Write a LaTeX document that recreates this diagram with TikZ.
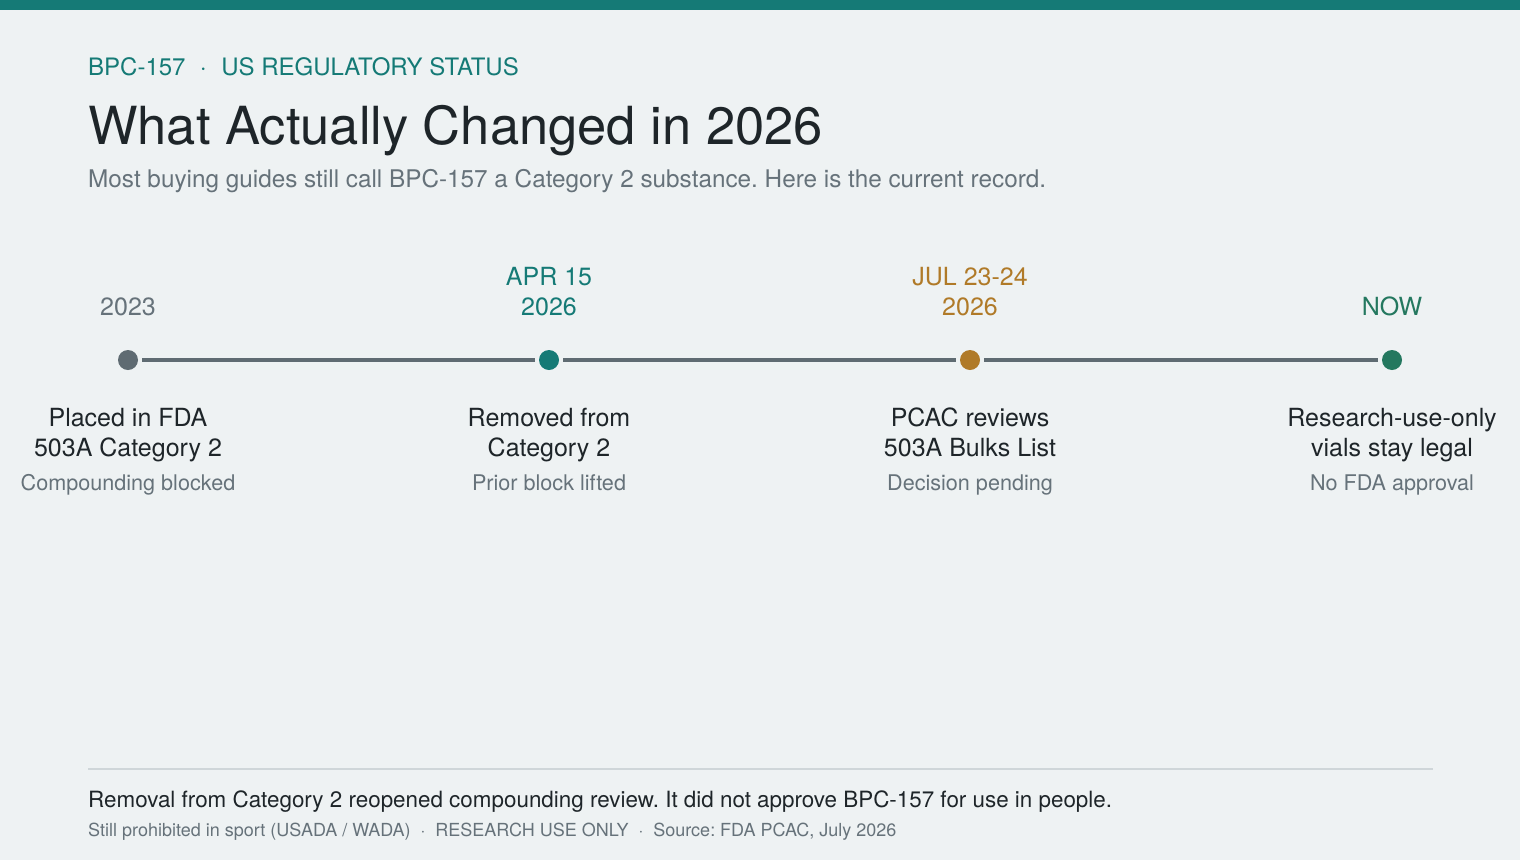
\documentclass[tikz,border=0pt]{standalone}
\usepackage{fontspec}
\setmainfont{TeX Gyre Heros}
\usepackage{xcolor}
\definecolor{pagebg}{RGB}{238,242,243}
\definecolor{tealmain}{RGB}{21,122,118}
\definecolor{ambermain}{RGB}{176,122,40}
\definecolor{greenmain}{RGB}{36,120,95}
\definecolor{slate}{RGB}{95,107,114}
\definecolor{inkdark}{RGB}{30,37,41}
\definecolor{inkgray}{RGB}{102,114,122}
\definecolor{rulegray}{RGB}{207,214,217}
\frenchspacing

\begin{document}
\begin{tikzpicture}
[
    x=1pt,y=-1pt,
    headline/.style={anchor=base west,inner sep=0pt},
    dot/.style={circle,inner sep=0pt,minimum size=20pt,outer sep=4pt},
    datelabel/.style={anchor=base,align=center,font=\fontsize{25}{30}\selectfont},
    eventlabel/.style={anchor=base,align=center,text=inkdark,font=\fontsize{25}{30}\selectfont},
    eventnote/.style={anchor=base,text=inkgray,font=\fontsize{21.6}{25}\selectfont},
    track/.style={draw=slate,line width=4pt}
]
\useasboundingbox (0,0) rectangle (1520,860);
\fill[pagebg] (0,0) rectangle (1520,860);
\fill[tealmain] (0,0) rectangle (1520,10);

% heading
\node (kicker) at (88,75) [headline,text=tealmain,font=\fontsize{24}{28}\selectfont] {BPC-157\hspace{0.6em}$\cdot$\hspace{0.6em}US REGULATORY STATUS};
\node (title) at (88,144) [headline,text=inkdark,font=\fontsize{52.5}{60}\selectfont] {What Actually Changed in 2026};
\node (subtitle) at (88,187) [headline,text=inkgray,font=\fontsize{24.3}{28}\selectfont] {Most buying guides still call BPC-157 a Category 2 substance. Here is the current record.};

% timeline
\node (d1) at (128,360) [dot,fill=slate] {};
\node (d2) at (549,360) [dot,fill=tealmain] {};
\node (d3) at (970,360) [dot,fill=ambermain] {};
\node (d4) at (1392,360) [dot,fill=greenmain] {};
\draw[track] (d1) -- (d2);
\draw[track] (d2) -- (d3);
\draw[track] (d3) -- (d4);

% dates (base = last line)
\node (t1) at (128,315) [datelabel,text=inkgray] {2023};
\node (t2) at (549,315) [datelabel,text=tealmain] {APR 15\\2026};
\node (t3) at (970,315) [datelabel,text=ambermain] {JUL 23-24\\2026};
\node (t4) at (1392,315) [datelabel,text=greenmain] {NOW};

\node (e1) at (128,456) [eventlabel] {Placed in FDA\\503A Category 2};
\node (e2) at (549,456) [eventlabel] {Removed from\\Category 2};
\node (e3) at (970,456) [eventlabel] {PCAC reviews\\503A Bulks List};
\node (e4) at (1392,456) [eventlabel] {Research-use-only\\vials stay legal};

\node (n1) at (128,490) [eventnote] {Compounding blocked};
\node (n2) at (549,490) [eventnote] {Prior block lifted};
\node (n3) at (970,490) [eventnote] {Decision pending};
\node (n4) at (1392,490) [eventnote] {No FDA approval};

% footer
\draw[rulegray,line width=2pt] (88,769) -- (1433,769);
\node (foot) at (88,807) [headline,text=inkdark,font=\fontsize{22.4}{26}\selectfont] {Removal from Category 2 reopened compounding review. It did not approve BPC-157 for use in people.};
\node (source) at (88,836) [headline,text=inkgray,font=\fontsize{18}{21}\selectfont] {Still prohibited in sport (USADA / WADA)\hspace{0.55em}$\cdot$\hspace{0.55em}RESEARCH USE ONLY\hspace{0.55em}$\cdot$\hspace{0.55em}Source: FDA PCAC, July 2026};
\end{tikzpicture}
\end{document}
